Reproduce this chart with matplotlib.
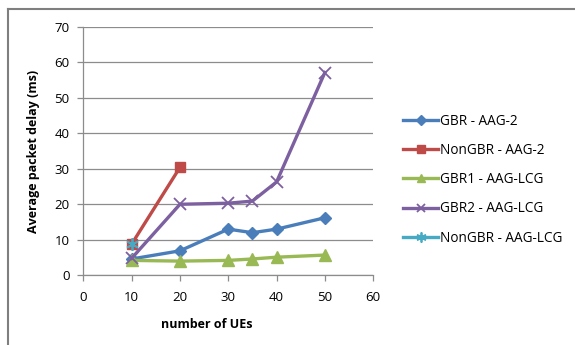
import matplotlib.pyplot as plt
from matplotlib.lines import Line2D

# Delay measurements per scheduler configuration
ues = [10, 20, 30, 35, 40, 50]
gbr_aag2 = [4.6, 6.9, 13.0, 12.0, 13.0, 16.2]
ues_nongbr_aag2 = [10, 20]
nongbr_aag2 = [8.8, 30.4]
gbr1_aag_lcg = [4.2, 4.0, 4.2, 4.6, 5.1, 5.7]
gbr2_aag_lcg = [4.8, 20.0, 20.3, 20.9, 26.3, 57.1]
ues_nongbr_aag_lcg = [10]
nongbr_aag_lcg = [8.9]

x_ticks = [0, 10, 20, 30, 40, 50, 60]
y_ticks = [0, 10, 20, 30, 40, 50, 60, 70]

plt.rcParams['font.family'] = ['Open Sans', 'DejaVu Sans']

fig = plt.figure(figsize=(5.75, 3.45), dpi=100)
ax = fig.add_axes([0.145, 0.202, 0.504, 0.7206])

lw = 2.4
ax.plot(ues, gbr_aag2, color='#4A7EBB', lw=lw, marker='D', ms=6.5,
        label='GBR - AAG-2')
ax.plot(ues_nongbr_aag2, nongbr_aag2, color='#BE4B48', lw=lw, marker='s', ms=7.5,
        label='NonGBR - AAG-2')
ax.plot(ues, gbr1_aag_lcg, color='#98B954', lw=lw, marker='^', ms=8,
        label='GBR1 - AAG-LCG')
ax.plot(ues, gbr2_aag_lcg, color='#7D60A0', lw=lw, marker='x', ms=8, mew=1.3,
        label='GBR2 - AAG-LCG')
# asterisk marker: six spokes
ax.plot(ues_nongbr_aag_lcg, nongbr_aag_lcg, color='#46AAC5', lw=lw,
        marker=(6, 2, 0), ms=9, mew=1.3, label='NonGBR - AAG-LCG')

ax.set_xlim(0, 60)
ax.set_ylim(0, 70)
ax.set_xticks(x_ticks)
ax.set_yticks(y_ticks)
ax.yaxis.grid(True, color='#8c8c8c', lw=0.9)
ax.set_axisbelow(True)
for side in ['top', 'right']:
    ax.spines[side].set_visible(False)
for side in ['left', 'bottom']:
    ax.spines[side].set_color('#8c8c8c')
    ax.spines[side].set_linewidth(0.9)
ax.tick_params(axis='both', colors='#8c8c8c', length=4, width=0.9,
               labelsize=9.5, labelcolor='black')
ax.tick_params(axis='y', pad=6)
ax.tick_params(axis='x', pad=7)

ax.set_xlabel('number of UEs', fontsize=9, fontweight='bold')
ax.xaxis.set_label_coords(0.427, -0.17)
ax.set_ylabel('Average packet delay (ms)', fontsize=9, fontweight='bold')
ax.yaxis.set_label_coords(-0.149, 0.5)

ax.legend(loc='upper left', bbox_to_anchor=(1.06, 0.7), frameon=False,
          fontsize=9.8, handlelength=2.6, handletextpad=0.15, labelspacing=1.05,
          markerscale=0.8)

# chart frame edges
fig.add_artist(Line2D([8 / 575, 1], [1 - 8.5 / 345, 1 - 8.5 / 345],
                      color='#7f7f7f', lw=1.5))
fig.add_artist(Line2D([8 / 575, 8 / 575], [0, 1 - 8.5 / 345],
                      color='#7f7f7f', lw=1.5))

fig.savefig('out.png', dpi=100)
